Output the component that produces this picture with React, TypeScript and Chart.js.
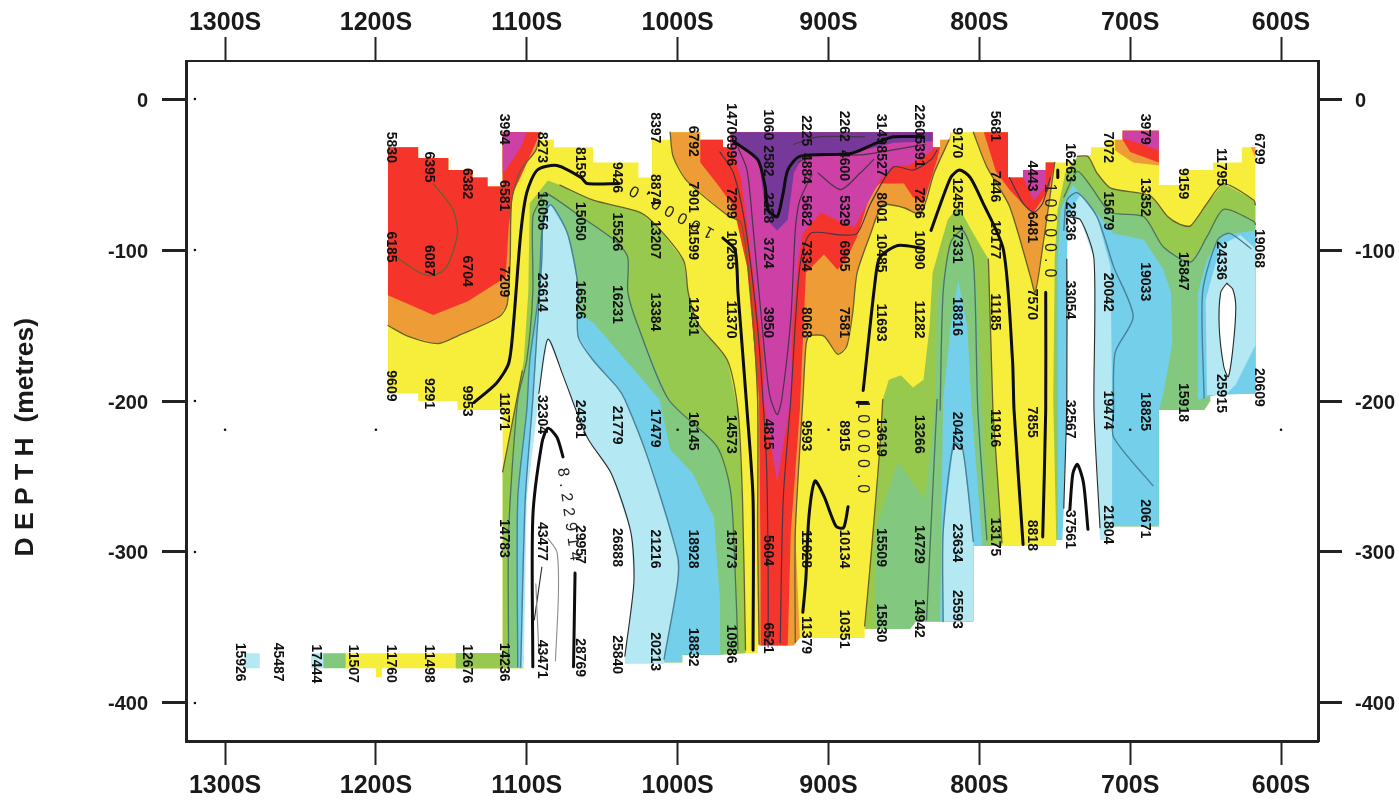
import React, { useEffect, useRef } from "react";
import { Chart, registerables } from "chart.js";

Chart.register(...registerables);

type Pt = [number, number];

const xTicks = [1300, 1200, 1100, 1000, 900, 800, 700, 600];
const yTicks = [0, -100, -200, -300, -400];

// Survey outline [S, depth]
const outline: Pt[] = [[1192,-32],[1172,-32],[1172,-39],[1152,-39],[1152,-47],[1136,-47],[1136,-52],[1126,-52],[1126,-58],[1116,-58],[1116,-22],[1091,-22],[1091,-27],[1082,-27],[1082,-32],[1056,-32],[1056,-42],[1026,-42],[1026,-52],[1017,-52],[1017,-27],[1005,-27],[1005,-22],[985,-22],[985,-27],[970,-27],[970,-32],[965,-32],[965,-22],[831,-22],[831,-32],[826,-32],[826,-27],[819,-27],[819,-22],[781,-22],[781,-52],[771,-52],[771,-47],[756,-47],[756,-42],[735,-42],[735,-37],[726,-37],[726,-32],[716,-32],[716,-27],[705,-27],[705,-21],[681,-21],[681,-57],[667,-57],[667,-47],[645,-47],[645,-42],[626,-42],[626,-32],[617,-32],[617,-195],[647,-195],[647,-200],[651,-206],[681,-206],[681,-283],[716,-283],[716,-292],[749,-292],[749,-296],[804,-296],[804,-346],[842,-346],[846,-351],[876,-351],[876,-357],[923,-357],[923,-362],[947,-362],[947,-367],[971,-367],[971,-368],[997,-368],[997,-373],[1078,-373],[1100,-373],[1100,-377],[1196,-377],[1196,-383],[1200,-383],[1200,-377],[1220,-377],[1220,-367],[1116,-367],[1116,-206],[1146,-206],[1146,-200],[1172,-200],[1172,-195],[1192,-195]];
const stairLeft: Pt[] = [[1116,-22],[1116,-58],[1126,-58],[1126,-52],[1136,-52],[1136,-47],[1152,-47],[1152,-39],[1172,-39],[1172,-32],[1192,-32]];
const bottomMid: Pt[] = [[971,-368],[997,-368],[997,-373],[1078,-373],[1100,-373],[1100,-377]];

// Left low-value patches
const orangeLeftEdge: Pt[] = [[1192,-150],[1179,-157],[1159,-162],[1146,-157],[1118,-144],[1113,-136],[1111,-106],[1110,-67],[1104,-47],[1094,-34],[1091,-22]];
const redLeftEdge: Pt[] = [[1192,-130],[1162,-143],[1139,-134],[1114,-118],[1112,-85],[1109,-62],[1102,-47],[1091,-22]];
const magentaLeft: Pt[] = [[1116,-22],[1100,-22],[1104,-32],[1116,-50]];
const ovalLeft: Pt[] = [[1186,-105],[1171,-115],[1162,-117],[1153,-111],[1146,-89],[1149,-73],[1162,-56]];

// Left high-value patches
const limeLeftEdge: Pt[] = [[1116,-247],[1108,-206],[1102,-173],[1099,-128],[1098,-69],[1086,-54],[1078,-57],[1056,-67],[1025,-75],[1013,-85],[996,-107],[993,-128],[987,-148],[967,-173],[960,-206],[957,-265],[955,-365]];
const limeLeftRest: Pt[] = [[955,-367],[971,-368],[997,-368],[997,-373],[1100,-373],[1100,-377],[1147,-377],[1147,-367],[1116,-367]];
const greenLeftEdge: Pt[] = [[1111,-376],[1112,-287],[1106,-199],[1100,-173],[1096,-128],[1096,-78],[1091,-67],[1088,-62],[1064,-78],[1040,-95],[1033,-105],[1033,-128],[1026,-151],[1006,-199],[974,-230],[965,-259],[962,-310],[960,-365]];
const skyLeftEdge: Pt[] = [[1106,-376],[1106,-265],[1100,-206],[1098,-173],[1092,-128],[1090,-87],[1086,-68],[1078,-77],[1069,-106],[1066,-142],[1056,-148],[1025,-184],[1012,-199],[1005,-232],[990,-248],[976,-277],[972,-332],[972,-367]];
const lightLeftEdge: Pt[] = [[1104,-376],[1101,-265],[1096,-199],[1093,-151],[1090,-106],[1089,-78],[1084,-70],[1073,-89],[1066,-124],[1066,-157],[1056,-173],[1040,-191],[1035,-199],[1020,-237],[1000,-303],[1000,-320],[1009,-371]];
const whiteLeftEdge: Pt[] = [[1102,-376],[1100,-265],[1093,-206],[1092,-195],[1086,-159],[1076,-183],[1060,-224],[1044,-248],[1031,-287],[1029,-320],[1035,-369]];

// Strip at the bottom left
const stripLime: Pt[] = [[1147,-367],[1116,-367],[1116,-377],[1147,-377]];
const stripGreen: Pt[] = [[1235,-367],[1220,-367],[1220,-377],[1235,-377]];
const stripSky: Pt[] = [[1243,-367],[1235,-367],[1235,-377],[1243,-377]];
const stripSkyFar: Pt[] = [[1287,-367],[1277,-367],[1277,-377],[1287,-377]];

// Central trough
const orangeMid: Pt[] = [[1005,-22],[985,-22],[985,-27],[970,-27],[970,-32],[965,-32],[965,-22],[831,-22],[831,-32],[826,-32],[826,-27],[819,-27],[819,-22],[820,-27],[830,-49],[839,-76],[850,-72],[864,-70],[872,-89],[881,-115],[884,-142],[888,-164],[894,-169],[903,-157],[913,-157],[915,-164],[917,-199],[922,-287],[919,-357],[923,-362],[946,-362],[947,-287],[947,-199],[952,-124],[958,-82],[967,-77],[994,-54],[1003,-38]];
const redMid: Pt[] = [[985,-27],[970,-27],[970,-32],[965,-32],[965,-22],[831,-22],[831,-32],[826,-32],[828,-40],[837,-69],[844,-65],[850,-56],[866,-56],[872,-62],[881,-91],[888,-106],[894,-113],[903,-103],[915,-115],[919,-206],[925,-287],[927,-362],[945,-362],[945,-310],[946,-199],[954,-111],[963,-71],[974,-56],[985,-42]];
const magentaMid: Pt[] = [[965,-22],[831,-22],[831,-34],[846,-44],[857,-44],[866,-54],[874,-69],[883,-85],[895,-80],[905,-75],[917,-89],[920,-106],[924,-151],[925,-199],[934,-254],[943,-199],[943,-173],[952,-98],[958,-52],[965,-32]];
const purpleMid: Pt[] = [[965,-22],[963,-27],[946,-42],[941,-80],[934,-87],[927,-80],[923,-49],[917,-38],[885,-36],[857,-29],[831,-28],[831,-22]];

// Blob near 800S
const limeBlob: Pt[] = [[876,-351],[872,-305],[866,-232],[864,-199],[860,-186],[852,-183],[844,-191],[837,-186],[833,-151],[831,-115],[821,-80],[814,-71],[804,-89],[794,-106],[791,-206],[785,-294],[785,-296],[804,-296],[804,-346],[842,-346],[846,-351]];
const greenBlob: Pt[] = [[869,-351],[868,-283],[854,-240],[836,-265],[829,-199],[828,-133],[819,-95],[811,-87],[804,-106],[801,-133],[798,-206],[794,-295],[804,-296],[804,-346],[842,-346],[846,-351]];
const skyBlob: Pt[] = [[826,-346],[824,-199],[819,-151],[814,-120],[808,-151],[805,-206],[798,-296],[804,-296],[804,-346]];
const lightBlob: Pt[] = [[824,-346],[824,-287],[817,-228],[811,-232],[804,-293],[804,-346]];

// Patch near 765S
const orange765: Pt[] = [[804,-22],[795,-45],[780,-71],[766,-118],[763,-128],[758,-98],[750,-42],[756,-42],[756,-47],[771,-47],[771,-52],[781,-52],[781,-22]];
const red765: Pt[] = [[797,-22],[789,-48],[780,-60],[768,-73],[764,-75],[754,-60],[750,-42],[756,-42],[756,-47],[771,-47],[771,-52],[781,-52],[781,-22]];
const magenta765: Pt[] = [[771,-47],[756,-47],[756,-58],[764,-67],[771,-52]];

// Patch near 690S
const orange690: Pt[] = [[710,-27],[710,-34],[698,-42],[681,-44],[681,-21],[705,-21],[705,-27]];
const red690: Pt[] = [[705,-21],[705,-27],[700,-35],[681,-42],[681,-21]];
const magenta690: Pt[] = [[705,-21],[681,-21],[681,-34],[695,-29],[705,-26]];
const orange617: Pt[] = [[620,-32],[617,-32],[617,-39]];

// Right-hand side
const limeRightEdge: Pt[] = [[735,-38],[728,-38],[722,-49],[713,-59],[687,-64],[675,-78],[667,-83],[660,-84],[649,-69],[638,-56],[618,-67],[617,-70]];
const limeRightRest: Pt[] = [[617,-195],[647,-195],[647,-200],[651,-206],[681,-206],[681,-283],[716,-283],[716,-292],[749,-292],[751,-199],[750,-106],[748,-73],[743,-49]];
const greenRightEdge: Pt[] = [[744,-65],[735,-48],[726,-58],[713,-75],[691,-78],[678,-98],[660,-108],[649,-91],[638,-73],[618,-81],[617,-83]];
const greenRightRest: Pt[] = [[617,-195],[647,-195],[647,-200],[651,-206],[681,-206],[681,-283],[716,-283],[716,-292],[748,-292],[750,-106],[748,-73]];
const skyRightA: Pt[] = [[746,-73],[738,-57],[711,-89],[691,-93],[678,-113],[673,-128],[672,-161],[678,-195],[681,-206],[681,-283],[716,-283],[716,-292],[748,-292],[748,-106]];
const skyRightB: Pt[] = [[655,-199],[655,-128],[649,-106],[638,-90],[617,-87],[617,-195],[643,-196]];
const lightRightB: Pt[] = [[649,-196],[650,-133],[640,-97],[627,-90],[617,-99],[617,-163],[630,-189],[637,-196]];
const whiteOval: Pt[] = [[636,-122],[640,-128],[641,-151],[638,-177],[635,-184],[632,-166],[630,-138],[632,-126],[636,-122]];
const lightRightA: Pt[] = [[741,-77],[733,-63],[722,-78],[713,-111],[712,-199],[712,-285],[716,-285],[716,-292],[742,-292],[742,-199]];
const whiteRightA: Pt[] = [[741,-78],[733,-80],[724,-106],[724,-206],[720,-292],[716,-292],[745,-292],[744,-271],[742,-199],[742,-106]];

// Thin contours
const contourOlive: Pt[][] = [
  ovalLeft, orangeLeftEdge,
  [[1005,-22],[1003,-38],[994,-54],[967,-77],[958,-82],[952,-124],[947,-199],[947,-287],[946,-361]],
  [[922,-360],[922,-287],[917,-199],[915,-164],[913,-157],[903,-157],[894,-169],[888,-164],[884,-142],[881,-115],[872,-89],[864,-70],[850,-72],[839,-76],[830,-49],[820,-27]],
  [[804,-22],[795,-45],[780,-71],[766,-118],[763,-128],[758,-98],[750,-42]],
  [[864,-199],[866,-232],[872,-305],[876,-349]],
  [[1116,-247],[1108,-206],[1103,-180]],
  [[791,-206],[785,-294]],
  [[794,-106],[791,-206]],
  [[1078,-57],[1056,-67],[1025,-75],[1013,-85],[996,-107],[993,-128],[987,-148],[967,-173],[960,-206],[957,-265],[955,-365]],
  limeRightEdge,
];
const contourDark: Pt[][] = [
  [[972,-35],[963,-49],[955,-85],[947,-151],[943,-206],[941,-244],[940,-310],[940,-363]],
  [[960,-32],[954,-47],[950,-85],[943,-161],[939,-196],[934,-209],[931,-199],[925,-146],[922,-87],[919,-67],[911,-50]],
  [[932,-360],[930,-265],[925,-199],[919,-111],[912,-89],[892,-90],[881,-89],[872,-69],[857,-45],[844,-47],[832,-40],[828,-34]],
  [[920,-42],[910,-37],[879,-37],[859,-34],[836,-30]],
  [[923,-30],[907,-25],[876,-25]],
  [[907,-49],[892,-60],[879,-49],[870,-40]],
  [[780,-52],[771,-69],[764,-75],[758,-69],[753,-52]],
];
const contourGreen: Pt[][] = [
  [[1112,-376],[1112,-287],[1106,-199],[1100,-173],[1096,-128],[1096,-78],[1091,-67],[1088,-62],[1064,-78],[1040,-95],[1033,-105],[1033,-128],[1026,-151],[1006,-199],[974,-230],[965,-259],[962,-310],[960,-365]],
  [[828,-199],[835,-345]],
  [[826,-206],[824,-128],[819,-95],[811,-87],[804,-106],[801,-206],[795,-292]],
  greenRightEdge,
];
const contourBlue: Pt[][] = [
  lightLeftEdge,
  [[1106,-376],[1106,-265],[1100,-206],[1098,-173],[1092,-128],[1090,-87],[1086,-68]],
  [[824,-346],[824,-287],[817,-228],[811,-232],[804,-293]],
  [[744,-87],[742,-67],[735,-62],[722,-78],[711,-111],[698,-144],[710,-168],[711,-206],[711,-224],[685,-256]],
  [[651,-198],[652,-128],[642,-93],[634,-89],[620,-99]],
];
const contourBlack: Pt[][] = [
  whiteLeftEdge.slice(3), whiteOval,
  [[742,-106],[742,-199],[744,-271]],
  [[741,-78],[733,-80],[724,-106],[724,-206],[720,-284]],
  [[1090,-310],[1095,-345]],
];
const contourGray: Pt[][] = [
  [[1086,-291],[1080,-300],[1079,-327],[1081,-372]],
  [[1094,-321],[1092,-366]],
];
const contourThick: Pt[][] = [
  [[1135,-201],[1120,-188],[1112,-175],[1109,-151],[1104,-89],[1100,-62],[1093,-47],[1080,-44],[1064,-52],[1060,-56],[1039,-56]],
  [[970,-92],[962,-100],[960,-128],[954,-206],[950,-265],[950,-365]],
  [[963,-28],[947,-40],[942,-58],[940,-73],[934,-78],[930,-62],[927,-47],[919,-38],[885,-36],[868,-29],[857,-25],[837,-25]],
  [[877,-193],[869,-120],[866,-105],[854,-97],[837,-99]],
  [[881,-201],[874,-201]],
  [[832,-87],[819,-52],[813,-47],[806,-52],[798,-68],[784,-100],[778,-173],[777,-206],[771,-295]],
  [[756,-128],[756,-206],[758,-290]],
  [[748,-47],[748,-52]],
  [[1096,-376],[1096,-277],[1090,-228],[1086,-218],[1080,-224],[1076,-237]],
  [[1068,-314],[1069,-376]],
  [[917,-340],[915,-318],[913,-277],[909,-253],[903,-263],[895,-283],[890,-284],[887,-270]],
  [[740,-272],[738,-248],[735,-242],[731,-254],[728,-285]],
];

const marks: Pt[] = [[1320,0],[1320,-100],[1320,-200],[1320,-300],[1320,-400],[1300,-219],[1200,-219],[1000,-219],[900,-219],[700,-219],[600,-219],[1019,-62]];

// Station labels: S, then [depth, value]
const stationLabels: [number, [number, string][]][] = [
  [1290, [[-373, "15926"]]],
  [1265, [[-373, "45487"]]],
  [1240, [[-374, "17444"]]],
  [1215, [[-374, "11507"]]],
  [1190, [[-32, "5830"], [-98, "6185"], [-190, "9609"], [-374, "11760"]]],
  [1165, [[-45, "6395"], [-107, "6087"], [-195, "9291"], [-374, "11498"]]],
  [1140, [[-56, "6382"], [-114, "6704"], [-200, "9953"], [-374, "12676"]]],
  [1115, [[-20, "3994"], [-64, "6581"], [-121, "7209"], [-207, "11871"], [-291, "14783"], [-373, "14236"]]],
  [1090, [[-32, "8273"], [-74, "16056"], [-128, "23614"], [-209, "32304"], [-293, "43477"], [-371, "43471"]]],
  [1065, [[-42, "8159"], [-81, "15050"], [-133, "16526"], [-212, "24361"], [-295, "29957"], [-370, "28769"]]],
  [1040, [[-52, "9426"], [-88, "15526"], [-136, "16231"], [-216, "21779"], [-297, "26888"], [-368, "25840"]]],
  [1015, [[-19, "8397"], [-60, "8874"], [-93, "13207"], [-141, "13384"], [-218, "17479"], [-298, "21216"], [-366, "20213"]]],
  [990, [[-28, "6792"], [-65, "7901"], [-94, "11599"], [-144, "12431"], [-220, "16145"], [-298, "18928"], [-363, "18832"]]],
  [965, [[-13, "1470"], [-34, "6996"], [-69, "7299"], [-100, "10265"], [-146, "11370"], [-222, "14573"], [-298, "15773"], [-361, "10986"]]],
  [940, [[-17, "1060"], [-41, "2582"], [-72, "2228"], [-102, "3724"], [-148, "3950"], [-222, "4815"], [-299, "5604"], [-357, "6521"]]],
  [915, [[-21, "2225"], [-46, "4884"], [-74, "5682"], [-104, "7334"], [-148, "8068"], [-223, "9593"], [-298, "11028"], [-355, "11379"]]],
  [890, [[-18, "2262"], [-44, "4600"], [-74, "5329"], [-104, "6905"], [-148, "7581"], [-223, "8915"], [-298, "10134"], [-351, "10351"]]],
  [865, [[-20, "3149"], [-41, "8527"], [-72, "8001"], [-102, "10485"], [-148, "11693"], [-224, "13619"], [-297, "15509"], [-347, "15830"]]],
  [840, [[-14, "2260"], [-35, "5391"], [-69, "7286"], [-100, "10090"], [-146, "11282"], [-222, "13266"], [-295, "14729"], [-344, "14942"]]],
  [815, [[-29, "9170"], [-65, "12455"], [-96, "17331"], [-144, "18816"], [-220, "20422"], [-294, "23634"], [-338, "25593"]]],
  [790, [[-18, "5681"], [-58, "7446"], [-93, "10177"], [-141, "11185"], [-218, "11916"], [-290, "13175"]]],
  [765, [[-51, "4443"], [-85, "6481"], [-136, "7570"], [-214, "7855"], [-289, "8818"]]],
  [740, [[-42, "16263"], [-81, "28236"], [-133, "33054"], [-212, "32567"], [-285, "37561"]]],
  [715, [[-32, "7072"], [-74, "15679"], [-128, "20042"], [-206, "19474"], [-282, "21804"]]],
  [690, [[-20, "3979"], [-65, "13352"], [-121, "19033"], [-207, "18825"], [-278, "20671"]]],
  [665, [[-56, "9159"], [-114, "15847"], [-201, "15918"]]],
  [640, [[-45, "11795"], [-107, "24336"], [-195, "25915"]]],
  [615, [[-33, "6799"], [-99, "19068"], [-191, "20609"]]],
];

// Contour value captions: S, depth, text, direction in degrees
const contourCaptions: [number, number, string, number][] = [
  [753.5, -89, "10000.0", 90],
  [877.5, -232, "10000.0", 90],
  [1005.5, -73.5, "10000.0", 209],
  [1072, -277, "8.22914", 82],
];

const axisTitle = "D E P T H  (metres)";

const YELLOW = "#f7ee3b", ORANGE = "#ee9c35", RED = "#f5352b", MAGENTA = "#cd40a6", PURPLE = "#76399a";
const LIME = "#97c94f", GREEN = "#82c97f", SKY = "#74d0ea", LIGHT = "#b4e8f2", WHITE = "#ffffff";

const fills: [Pt[], string][] = [
  [outline, YELLOW],
  [[...orangeLeftEdge, ...stairLeft], ORANGE],
  [[...redLeftEdge, ...stairLeft], RED],
  [magentaLeft, MAGENTA],
  [[...limeLeftEdge, ...limeLeftRest], LIME],
  [stripLime, LIME],
  [stripGreen, GREEN],
  [stripSky, LIGHT],
  [stripSkyFar, LIGHT],
  [[...greenLeftEdge, ...bottomMid], GREEN],
  [[...skyLeftEdge, ...bottomMid], SKY],
  [[...lightLeftEdge, [1009,-374], [1078,-374], [1100,-374], [1100,-378]], LIGHT],
  [[...whiteLeftEdge, [1035,-375], [1078,-375], [1102,-378]], WHITE],
  [orangeMid, ORANGE],
  [redMid, RED],
  [magentaMid, MAGENTA],
  [purpleMid, PURPLE],
  [limeBlob, LIME],
  [greenBlob, GREEN],
  [skyBlob, SKY],
  [lightBlob, LIGHT],
  [orange765, ORANGE],
  [red765, RED],
  [magenta765, MAGENTA],
  [orange690, ORANGE],
  [red690, RED],
  [magenta690, MAGENTA],
  [orange617, ORANGE],
  [[...limeRightEdge, ...limeRightRest], LIME],
  [[...greenRightEdge, ...greenRightRest], GREEN],
  [skyRightA, SKY],
  [skyRightB, SKY],
  [lightRightA, LIGHT],
  [lightRightB, LIGHT],
  [whiteRightA, WHITE],
  [whiteOval, WHITE],
];

const toXY = (pts: Pt[]) => pts.map(([x, y]) => ({ x, y }));

const labelPlugin = {
  id: "stationLabels",
  afterDatasetsDraw(chart: any) {
    const { ctx, scales } = chart;
    const sx = scales.x, sy = scales.y;
    ctx.save();
    ctx.fillStyle = "#111";
    ctx.textAlign = "center";
    ctx.textBaseline = "middle";
    ctx.font = 'bold 14px "Liberation Sans"';
    for (const [s, rows] of stationLabels) {
      for (const [d, text] of rows) {
        ctx.save();
        ctx.translate(sx.getPixelForValue(s), sy.getPixelForValue(d));
        ctx.rotate(Math.PI / 2);
        ctx.fillText(text, 0, 0);
        ctx.restore();
      }
    }
    ctx.font = '16px "Liberation Sans"';
    ctx.fillStyle = "#222";
    (ctx as any).letterSpacing = "6px";
    for (const [s, d, text, deg] of contourCaptions) {
      ctx.save();
      ctx.translate(sx.getPixelForValue(s), sy.getPixelForValue(d));
      ctx.rotate((deg * Math.PI) / 180);
      ctx.fillText(text, 0, 0);
      ctx.restore();
    }
    (ctx as any).letterSpacing = "0px";
    ctx.fillStyle = "#1a1a1a";
    ctx.font = 'bold 26.5px "Liberation Sans"';
    ctx.translate(26, sy.getPixelForValue(-224));
    ctx.rotate(-Math.PI / 2);
    ctx.fillText(axisTitle, 0, 0);
    ctx.restore();
  },
};

export default function App() {
  const ref = useRef<HTMLCanvasElement>(null);
  useEffect(() => {
    if (!ref.current) return;
    const datasets: any[] = [];
    const push = (d: any) => datasets.push({ ...d, order: -datasets.length });
    fills.forEach(([pts, color]) =>
      push({ type: "line", data: toXY(pts), fill: "shape", backgroundColor: color, borderWidth: 0, borderColor: color, pointRadius: 0, tension: 0, clip: false })
    );
    const lines = (group: Pt[][], color: string, width: number) =>
      group.forEach((pts) =>
        push({ type: "line", data: toXY(pts), fill: false, borderColor: color, borderWidth: width, pointRadius: 0, tension: 0.25, clip: false, borderCapStyle: "round", borderJoinStyle: "round" })
      );
    lines(contourOlive, "#67602c", 1.3);
    lines(contourDark, "#4a3448", 1.2);
    lines(contourGreen, "#4c7361", 1.3);
    lines(contourBlue, "#4a8199", 1.4);
    lines(contourBlack, "#2a2a2a", 1.1);
    lines(contourGray, "#8d8d8d", 1.1);
    lines(contourThick, "#0d0d0d", 3);
    push({ type: "scatter", data: toXY(marks), pointRadius: 1.3, pointBackgroundColor: "#111", pointBorderWidth: 0, showLine: false, clip: false });

    const axisInk = "#222";
    const xBase = (fitH: number, pad: number, pos: string, bw: number) => ({
      type: "linear", position: pos, reverse: true, min: 575.5, max: 1325.9,
      afterBuildTicks: (s: any) => { s.ticks = xTicks.map((value) => ({ value })); },
      afterFit: (s: any) => { s.height = fitH; },
      grid: { drawOnChartArea: false, drawTicks: true, tickLength: 24, tickWidth: 2, tickColor: axisInk },
      border: { display: true, color: axisInk, width: bw },
      ticks: { autoSkip: false, maxRotation: 0, minRotation: 0, padding: pad, color: "#1a1a1a", font: { family: "Liberation Sans", size: 25, weight: "bold" }, callback: (v: any) => `${v}S` },
    });
    const yBase = (fitW: number, pad: number, pos: string) => ({
      type: "linear", position: pos, min: -425.2, max: 25.2,
      afterBuildTicks: (s: any) => { s.ticks = yTicks.map((value) => ({ value })); },
      afterFit: (s: any) => { s.width = fitW; },
      grid: { drawOnChartArea: false, drawTicks: true, tickLength: 24, tickWidth: 3, tickColor: axisInk },
      border: { display: true, color: axisInk, width: 3 },
      ticks: { autoSkip: false, padding: pad, labelOffset: 2, color: "#1a1a1a", font: { family: "Liberation Sans", size: 20, weight: "bold" }, callback: (v: any) => `${v}` },
    });

    const chart = new Chart(ref.current, {
      type: "line",
      data: { datasets },
      plugins: [labelPlugin as any],
      options: {
        responsive: false,
        animation: false,
        parsing: { xAxisKey: "x", yAxisKey: "y" } as any,
        layout: { padding: 0 },
        plugins: { legend: { display: false }, tooltip: { enabled: false }, title: { display: false }, filler: { propagate: false, drawTime: "beforeDatasetDraw" } as any },
        scales: {
          x: xBase(60, 6, "bottom", 3),
          x2: xBase(61, -1, "top", 2),
          y: yBase(186, 14, "left"),
          y2: yBase(81, 13, "right"),
        } as any,
      },
    });
    return () => chart.destroy();
  }, []);
  return <canvas ref={ref} width={1399} height={801} style={{ position: "absolute", left: 0, top: 0, display: "block" }} />;
}
